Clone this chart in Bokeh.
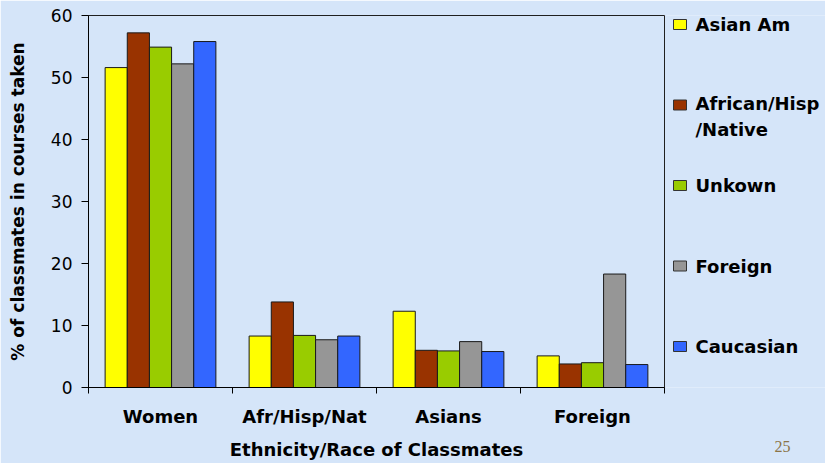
from bokeh.plotting import figure
from bokeh.layouts import row
from bokeh.models import (Range1d, LinearAxis, FixedTicker, SingleIntervalTicker,
                          ColumnDataSource)
from bokeh.core.properties import value
from bokeh.embed import file_html
from bokeh.resources import INLINE

# Share of classmates (%) in courses taken, by student group
categories = ["Women", "Afr/Hisp/Nat", "Asians", "Foreign"]
series = ["Asian Am", "African/Hisp\n/Native", "Unkown", "Foreign", "Caucasian"]
asian_am = [51.6, 8.3, 12.3, 5.1]
african_hisp_native = [57.2, 13.8, 6.0, 3.8]
unknown = [54.9, 8.4, 5.9, 4.0]
foreign = [52.2, 7.7, 7.4, 18.3]
caucasian = [55.8, 8.3, 5.8, 3.7]
values = [asian_am, african_hisp_native, unknown, foreign, caucasian]
colors = ["#ffff00", "#993300", "#99cc00", "#969696", "#3366ff"]
page_number = "25"

BG = "#d5e5f9"
FONT = "DejaVu Sans"
H = 463
MAIN_W = 666
SIDE_LEFT = MAIN_W - 1          # side panel overlaps the main one by 1px
SIDE_W = 825 - SIDE_LEFT
TOP, BOTTOM = 15, 76

p = figure(width=MAIN_W, height=H, x_range=Range1d(0, len(categories)),
           y_range=Range1d(0, 60), output_backend="svg", toolbar_location=None,
           min_border_left=88, min_border_right=2, min_border_top=TOP,
           min_border_bottom=BOTTOM, x_axis_type=None, y_axis_type=None)
p.background_fill_color = BG
p.border_fill_color = BG
p.outline_line_color = "#202020"
p.outline_line_width = 1

# Clustered bars: 5 series per category, gap equal to 1.5 bar widths
n = len(series)
bar_w = 1.0 / (n + 1.5)
for j, (vals, col) in enumerate(zip(values, colors)):
    xs = [i + 0.5 + (j - (n - 1) / 2) * bar_w for i in range(len(categories))]
    src = ColumnDataSource(dict(x=xs, top=vals))
    p.vbar(x="x", top="top", width=bar_w, bottom=0, source=src,
           fill_color=col, line_color="#1a1a1a", line_width=1)

# y axis
yax = LinearAxis(ticker=SingleIntervalTicker(interval=10, num_minor_ticks=0))
yax.axis_label = "% of classmates in courses taken"
yax.axis_label_text_font = FONT
yax.axis_label_text_font_style = "bold"
yax.axis_label_text_font_size = "17px"
yax.axis_label_text_color = "black"
yax.axis_label_standoff = 20
yax.major_label_text_font = FONT
yax.major_label_text_font_size = "17px"
yax.major_label_text_color = "black"
yax.major_label_standoff = 9
yax.major_tick_out = 7
yax.major_tick_in = 0
yax.major_tick_line_color = "black"
yax.axis_line_color = "black"
p.add_layout(yax, "left")

# x axis: labels at category centres, ticks at category boundaries
centers = [i + 0.5 for i in range(len(categories))]
bounds = list(range(len(categories) + 1))
xax = LinearAxis(ticker=FixedTicker(ticks=centers, minor_ticks=bounds))
xax.major_label_overrides = {c: name for c, name in zip(centers, categories)}
xax.major_label_text_font = FONT
xax.major_label_text_font_style = "bold"
xax.major_label_text_font_size = "18px"
xax.major_label_text_color = "black"
xax.major_label_standoff = 12
xax.major_tick_line_color = None
xax.major_tick_out = 0
xax.major_tick_in = 0
xax.minor_tick_out = 6
xax.minor_tick_in = 0
xax.minor_tick_line_color = "black"
xax.axis_line_color = "black"
xax.axis_label = "Ethnicity/Race of Classmates"
xax.axis_label_text_font = FONT
xax.axis_label_text_font_style = "bold"
xax.axis_label_text_font_size = "18px"
xax.axis_label_text_color = "black"
xax.axis_label_standoff = 9
p.add_layout(xax, "below")

p.ygrid.grid_line_color = "black"
p.ygrid.grid_line_width = 1
p.xgrid.grid_line_color = None
p.ygrid.ticker = yax.ticker

# Side panel with the legend (x in pixels from the panel's left edge,
# y in legend rows)
frame_h = H - TOP - BOTTOM
row_gap = 80.5
first = 9
lg = figure(width=SIDE_W, height=H, output_backend="svg", toolbar_location=None,
            x_range=Range1d(0, SIDE_W),
            y_range=Range1d((frame_h - first) / row_gap, -first / row_gap),
            min_border_left=0, min_border_right=0, min_border_top=TOP,
            min_border_bottom=BOTTOM, x_axis_type=None, y_axis_type=None,
            margin=(0, 0, 0, -1))
lg.background_fill_color = BG
lg.border_fill_color = BG
lg.outline_line_color = None
lg.grid.visible = False

line_h = 22.5
offsets = [s.count("\n") * line_h / 2 for s in series]
lsrc = ColumnDataSource(dict(y=list(range(n)), label=series, color=colors,
                             off=offsets))
lg.rect(x=673 + 6.5 - SIDE_LEFT, y="y", width=13, height=10,
        width_units="screen", height_units="screen", fill_color="color",
        line_color="#333333", line_width=1, source=lsrc)
lg.text(x=695 - SIDE_LEFT, y="y", text="label", y_offset="off", source=lsrc,
        text_font=value(FONT), text_font_style="bold", text_font_size="18px",
        text_baseline="middle", text_align="left", text_line_height=1.25,
        text_color="black")

# Slide number, set as the single tick label of a bare axis under the panel
num_x = 782 - SIDE_LEFT
num_ax = LinearAxis(ticker=FixedTicker(ticks=[num_x], minor_ticks=[]))
num_ax.major_label_overrides = {num_x: page_number}
num_ax.major_label_text_font = "Liberation Serif"
num_ax.major_label_text_font_size = "16px"
num_ax.major_label_text_color = "#8b7448"
num_ax.major_label_standoff = 53
num_ax.major_tick_line_color = None
num_ax.major_tick_out = 0
num_ax.major_tick_in = 0
num_ax.minor_tick_line_color = None
num_ax.axis_line_color = None
lg.add_layout(num_ax, "below")

open("out.html", "w").write(file_html(row(p, lg), INLINE))
